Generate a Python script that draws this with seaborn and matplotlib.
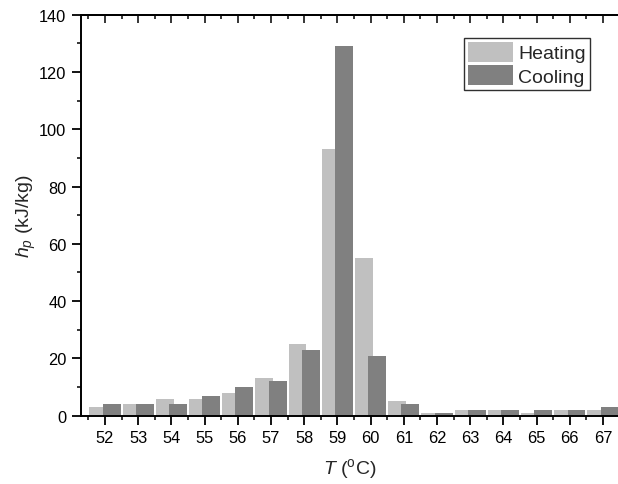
import numpy as np
import pandas as pd
import matplotlib
matplotlib.use("Agg")
import matplotlib.pyplot as plt
from matplotlib.ticker import MultipleLocator, FixedLocator
import seaborn as sns

# peak enthalpy per temperature bin
temps = [52, 53, 54, 55, 56, 57, 58, 59, 60, 61, 62, 63, 64, 65, 66, 67]
heating = [3, 4, 6, 6, 8, 13, 25, 93, 55, 5, 1, 2, 2, 1, 2, 2]
cooling = [4, 4, 4, 7, 10, 12, 23, 129, 21, 4, 1, 2, 2, 2, 2, 3]
modes = ["Heating", "Cooling"]
colors = {"Heating": "#c0c0c0", "Cooling": "#808080"}

df = pd.DataFrame({
    "T": [str(t) for t in temps] * 2,
    "hp": heating + cooling,
    "mode": ["Heating"] * len(temps) + ["Cooling"] * len(temps),
})

sns.set_theme(style="ticks")
plt.rcParams["font.family"] = ["Liberation Sans", "DejaVu Sans"]
plt.rcParams["mathtext.fontset"] = "custom"
plt.rcParams["mathtext.it"] = "Liberation Sans:italic"
plt.rcParams["mathtext.rm"] = "Liberation Sans"

fig = plt.figure(figsize=(6.18, 4.85), dpi=100)
W, H = 618, 485
ax = fig.add_axes([81 / W, 1 - 416.7 / H, (618 - 81) / W, (416.7 - 15.7) / H])

sns.barplot(df, x="T", y="hp", hue="mode", hue_order=modes, palette=colors,
            width=0.8, gap=-0.35, dodge=True, saturation=1, edgecolor="none",
            linewidth=0, ax=ax)

ax.set_xlim(-0.72, 15.45)
ax.set_ylim(0, 140)
ax.set_yticks(np.arange(0, 141, 20))
ax.yaxis.set_minor_locator(MultipleLocator(10))
ax.xaxis.set_minor_locator(FixedLocator(np.arange(-0.5, 16, 1)))

for s in ["left", "bottom", "top"]:
    ax.spines[s].set_visible(True)
    ax.spines[s].set_linewidth(1.4)
    ax.spines[s].set_color("black")
ax.spines["right"].set_visible(False)

ax.tick_params(axis="both", which="major", direction="out", length=6.5, width=1.3,
               labelsize=11.8, colors="black", pad=4)
ax.tick_params(axis="both", which="minor", direction="out", length=3, width=1.3)
ax.tick_params(axis="x", top=False)

top = ax.secondary_xaxis("top")
top.set_xticks(range(len(temps)))
top.set_xticklabels([])
top.xaxis.set_minor_locator(FixedLocator(np.arange(-0.5, 16, 1)))
top.tick_params(which="major", direction="in", length=6, width=1.3)
top.tick_params(which="minor", direction="in", length=3, width=1.3)
top.spines["top"].set_linewidth(1.4)

ax.set_xlabel(r"$\it{T}$ ($^{\rm o}$C)", fontsize=14, labelpad=8)
ax.set_ylabel(r"$\it{h}_{\it{p}}$ (kJ/kg)", fontsize=14, labelpad=1)

ax.legend(loc="upper left", bbox_to_anchor=(464 / W, 1 - 39 / H),
          bbox_transform=fig.transFigure, fontsize=14, frameon=True,
          fancybox=False, edgecolor="#303030", framealpha=1,
          handlelength=2.3, handleheight=1.2, handletextpad=0.3,
          labelspacing=0.14, borderpad=0.2, borderaxespad=0)
ax.get_legend().get_frame().set_linewidth(1.0)

fig.savefig("out.png", dpi=100)
